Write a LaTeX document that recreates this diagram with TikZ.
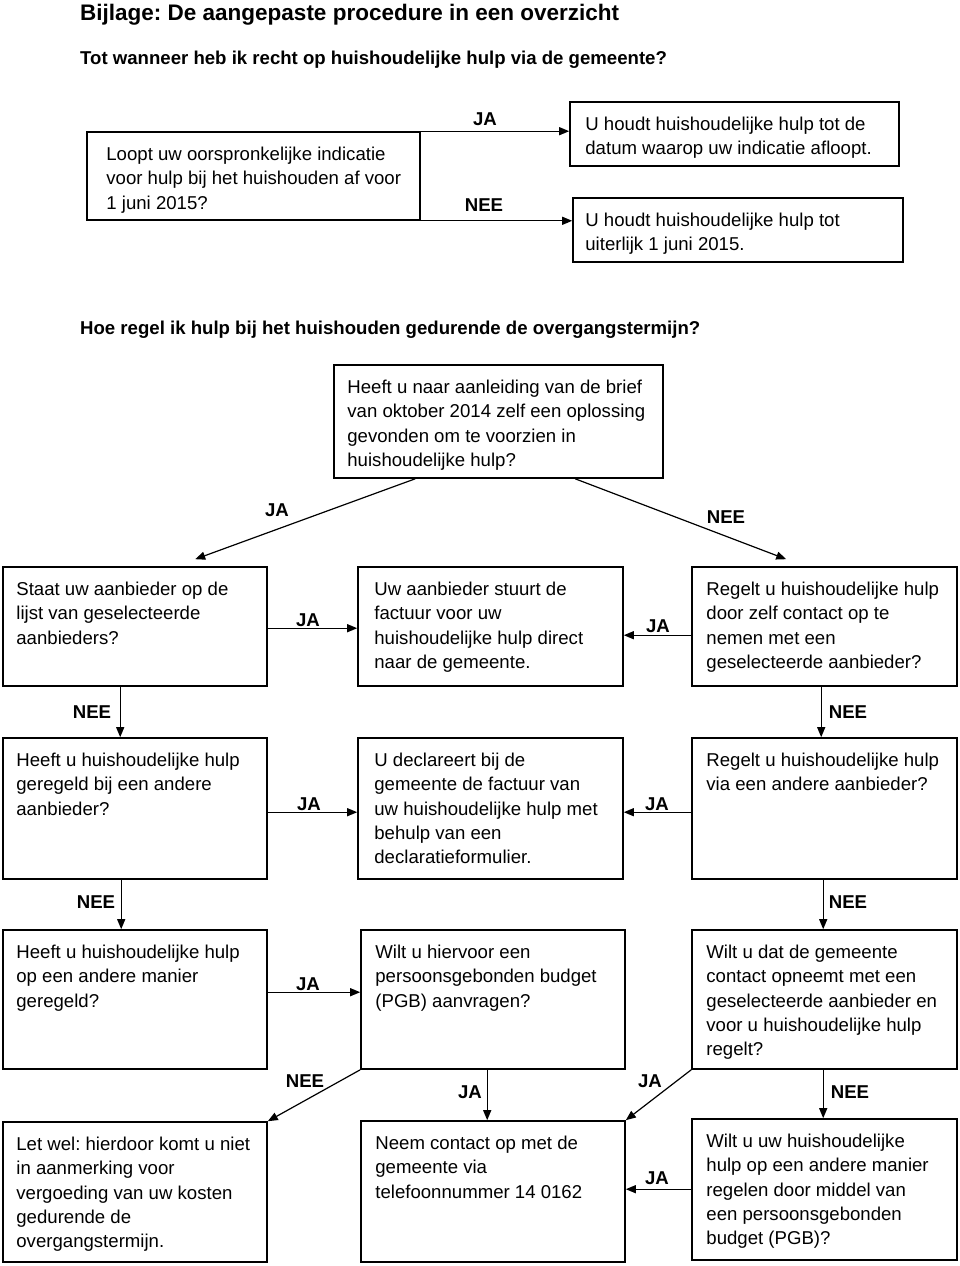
\documentclass[tikz,border=0pt]{standalone}
\usepackage{fontspec}
\setmainfont{Liberation Sans}
\frenchspacing
\usetikzlibrary{calc,arrows.meta}
\newcommand\BX[7]{%
  \node[box,minimum width={(#4-#2)*1pt},minimum height={(#5-#3)*1pt}] (#1) at ({(#2+#4)/2},{(#3+#5)/2}) {};
  \node[txt] (#1t) at ($(#1.north west)+(#6,15.5)$) {#7};}
\begin{document}
\begin{tikzpicture}[x=1pt,y=-1pt,
  box/.style={draw,line width=1.6pt,inner sep=0pt,rectangle},
  txt/.style={anchor=north west,inner sep=0pt,align=left,font=\fontsize{18.6}{24.4}\selectfont},
  lab/.style={inner sep=0pt,font=\fontsize{18.6}{22}\selectfont\bfseries},
  arr/.style={line width=1.2pt,-{Triangle[length=10pt,width=8pt]}},
  head/.style={anchor=base west,inner sep=0pt,font=\fontsize{18.6}{22}\selectfont\bfseries}]
\useasboundingbox (0,0) rectangle (960,1266);
\fill[white] (0,0) rectangle (960,1266);
\node[anchor=base west,inner sep=0pt,font=\fontsize{22.5}{26}\selectfont\bfseries] (title) at (80,20) {Bijlage: De aangepaste procedure in een overzicht};
\node[head] (sub1) at (80,64) {Tot wanneer heb ik recht op huishoudelijke hulp via de gemeente?};
\node[head] (sub2) at (80,334) {Hoe regel ik hulp bij het huishouden gedurende de overgangstermijn?};
% top section
\BX{q1}{87}{132}{420}{220}{20}{Loopt uw oorspronkelijke indicatie\\voor hulp bij het huishouden af voor\\1 juni 2015?}
\BX{r1}{570}{102}{899}{166}{16}{U houdt huishoudelijke hulp tot de\\datum waarop uw indicatie afloopt.}
\BX{r2}{573}{198}{903}{262}{13}{U houdt huishoudelijke hulp tot\\uiterlijk 1 juni 2015.}
\draw[arr] (q1.north east) -- (q1.north east -| r1.west);
\draw[arr] (q1.south east) -- (q1.south east -| r2.west);
\node[lab] (l1) at (485,119) {JA};
\node[lab] (l2) at (484,205) {NEE};
% second section
\BX{h}{334}{365}{663}{478}{14}{Heeft u naar aanleiding van de brief\\van oktober 2014 zelf een oplossing\\gevonden om te voorzien in\\huishoudelijke hulp?}
% row 1
\BX{a1}{3}{567}{267}{686}{14}{Staat uw aanbieder op de\\lijst van geselecteerde\\aanbieders?}
\BX{b1}{358}{567}{623}{686}{17}{Uw aanbieder stuurt de\\factuur voor uw\\huishoudelijke hulp direct\\naar de gemeente.}
\BX{c1}{692}{567}{957}{686}{15}{Regelt u huishoudelijke hulp\\door zelf contact op te\\nemen met een\\geselecteerde aanbieder?}
% row 2
\BX{a2}{3}{738}{267}{879}{14}{Heeft u huishoudelijke hulp\\geregeld bij een andere\\aanbieder?}
\BX{b2}{358}{738}{623}{879}{17}{U declareert bij de\\gemeente de factuur van\\uw huishoudelijke hulp met\\behulp van een\\declaratieformulier.}
\BX{c2}{692}{738}{957}{879}{15}{Regelt u huishoudelijke hulp\\via een andere aanbieder?}
% row 3
\BX{a3}{3}{930}{267}{1069}{14}{Heeft u huishoudelijke hulp\\op een andere manier\\geregeld?}
\BX{b3}{361}{930}{625}{1069}{15}{Wilt u hiervoor een\\persoonsgebonden budget\\(PGB) aanvragen?}
\BX{c3}{692}{930}{957}{1069}{15}{Wilt u dat de gemeente\\contact opneemt met een\\geselecteerde aanbieder en\\voor u huishoudelijke hulp\\regelt?}
% row 4
\BX{a4}{3}{1122}{267}{1262}{14}{Let wel: hierdoor komt u niet\\in aanmerking voor\\vergoeding van uw kosten\\gedurende de\\overgangstermijn.}
\BX{b4}{361}{1121}{625}{1262}{15}{Neem contact op met de\\gemeente via\\telefoonnummer 14 0162}
\BX{c4}{692}{1119}{957}{1260}{15}{Wilt u uw huishoudelijke\\hulp op een andere manier\\regelen door middel van\\een persoonsgebonden\\budget (PGB)?}
% connector anchor points
\coordinate (hs1) at ($(h.south west)+(82,0)$);
\coordinate (hs2) at ($(h.south west)+(242,0)$);
\coordinate (a1n) at ($(a1.north west)+(193,-7)$);
\coordinate (c1n) at ($(c1.north west)+(95,-7)$);
\coordinate (a1e) at ($(a1.north east)+(0,62)$);
\coordinate (c1w) at ($(c1.north west)+(0,69)$);
\coordinate (a1s) at ($(a1.south west)+(118,0)$);
\coordinate (c1s) at ($(c1.south west)+(130,0)$);
\coordinate (a2e) at ($(a2.north east)+(0,75)$);
\coordinate (c2w) at ($(c2.north west)+(0,75)$);
\coordinate (a2s) at ($(a2.south west)+(119,0)$);
\coordinate (c2s) at ($(c2.south west)+(132,0)$);
\coordinate (a3e) at ($(a3.north east)+(0,63)$);
\coordinate (b3s) at ($(b3.south west)+(127,0)$);
\coordinate (c3s) at ($(c3.south west)+(132,0)$);
\coordinate (c4w) at ($(c4.north west)+(0,71)$);
% connectors
\draw[arr] (hs1) -- (a1n);
\draw[arr] (hs2) -- (c1n);
\node[lab] (l3) at (277,510) {JA};
\node[lab] (l4) at (726,517) {NEE};
\draw[arr] (a1e) -- (a1e -| b1.west);
\draw[arr] (c1w) -- (c1w -| b1.east);
\node[lab] (l5) at (308,620) {JA};
\node[lab] (l6) at (658,626) {JA};
\draw[arr] (a1s) -- (a1s |- a2.north);
\draw[arr] (c1s) -- (c1s |- c2.north);
\node[lab] (l7) at (92,712) {NEE};
\node[lab] (l8) at (848,712) {NEE};
\draw[arr] (a2e) -- (a2e -| b2.west);
\draw[arr] (c2w) -- (c2w -| b2.east);
\node[lab] (l9) at (309,804) {JA};
\node[lab] (l10) at (657,804) {JA};
\draw[arr] (a2s) -- (a2s |- a3.north);
\draw[arr] (c2s) -- (c2s |- c3.north);
\node[lab] (l11) at (96,902) {NEE};
\node[lab] (l12) at (848,902) {NEE};
\draw[arr] (a3e) -- (a3e -| b3.west);
\node[lab] (l13) at (308,984) {JA};
\draw[arr] (b3.south west) -- (a4.north east);
\draw[arr] (b3s) -- (b3s |- b4.north);
\draw[arr] (c3.south west) -- (b4.north east);
\draw[arr] (c3s) -- (c3s |- c4.north);
\node[lab] (l14) at (305,1081) {NEE};
\node[lab] (l15) at (470,1092) {JA};
\node[lab] (l16) at (650,1081) {JA};
\node[lab] (l17) at (850,1092) {NEE};
\draw[arr] (c4w) -- (c4w -| b4.east);
\node[lab] (l18) at (657,1178) {JA};
\end{tikzpicture}
\end{document}
